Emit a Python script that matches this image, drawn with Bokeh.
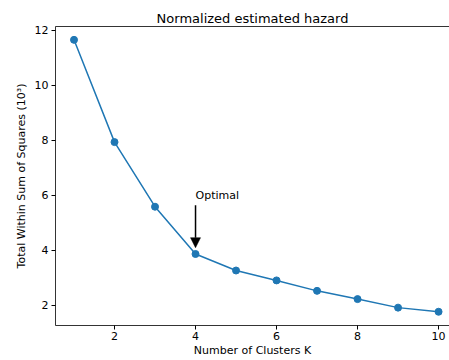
from bokeh.plotting import figure
from bokeh.models import Range1d, LinearAxis, FixedTicker, Arrow, NormalHead, Label
from bokeh.embed import file_html
from bokeh.resources import INLINE

k_values = [1, 2, 3, 4, 5, 6, 7, 8, 9, 10]
wss = [11.66, 7.94, 5.59, 3.87, 3.27, 2.91, 2.53, 2.23, 1.92, 1.77]
x_ticks = [2, 4, 6, 8, 10]
y_ticks = [2, 4, 6, 8, 10, 12]
optimal_k = 4
arrow_start = 5.64
arrow_end = 4.1
label_y = 6.0

FONT = "DejaVu Sans"
BLUE = "#1f77b4"

p = figure(width=449, height=360, output_backend="svg", toolbar_location=None,
           x_range=Range1d(0.543, 10.27), y_range=Range1d(1.27, 12.145),
           min_border_left=55, min_border_right=0, min_border_top=26, min_border_bottom=35,
           title="Normalized estimated hazard")
p.outline_line_color = None
p.grid.visible = False
p.background_fill_color = "white"
p.border_fill_color = "white"

p.title.text_font = FONT
p.title.text_font_size = "13px"
p.title.text_font_style = "normal"
p.title.text_color = "black"
p.title.align = "center"
p.title.offset = 4
p.title.standoff = 2

for ax in (p.xaxis[0], p.yaxis[0]):
    ax.major_label_text_font = FONT
    ax.major_label_text_font_size = "11px"
    ax.major_label_text_color = "black"
    ax.axis_label_text_font = FONT
    ax.axis_label_text_font_size = "11px"
    ax.axis_label_text_font_style = "normal"
    ax.axis_label_text_color = "black"
    ax.axis_line_color = "black"
    ax.axis_line_width = 0.8
    ax.major_tick_line_color = "black"
    ax.major_tick_in = 0
    ax.major_tick_out = 4
    ax.minor_tick_line_color = None
    ax.major_label_standoff = 3
    ax.axis_label_standoff = 4

p.xaxis[0].major_label_standoff = 2
p.xaxis[0].axis_label_standoff = 1

p.xaxis[0].ticker = FixedTicker(ticks=x_ticks)
p.yaxis[0].ticker = FixedTicker(ticks=y_ticks)
p.xaxis[0].axis_label = "Number of Clusters K"
p.yaxis[0].axis_label = "Total Within Sum of Squares (10³)"

top = LinearAxis(ticker=FixedTicker(ticks=[]), major_label_text_font_size="0px",
                 axis_line_color="black", axis_line_width=0.8,
                 major_tick_line_color=None, minor_tick_line_color=None)
p.add_layout(top, "above")

p.line(k_values, wss, line_color=BLUE, line_width=1.5)
p.scatter(k_values, wss, size=7, fill_color=BLUE, line_color=BLUE)

p.add_layout(Arrow(x_start=optimal_k, y_start=arrow_start, x_end=optimal_k, y_end=arrow_end,
                   line_color="black", line_width=1.5,
                   end=NormalHead(size=10, fill_color="black", line_color="black", line_width=0.5)))
p.add_layout(Label(x=optimal_k, y=label_y, text="Optimal", text_font=FONT,
                   text_font_size="11px", text_color="black",
                   text_align="left", text_baseline="alphabetic"))

open("out.html", "w").write(file_html(p, INLINE))
